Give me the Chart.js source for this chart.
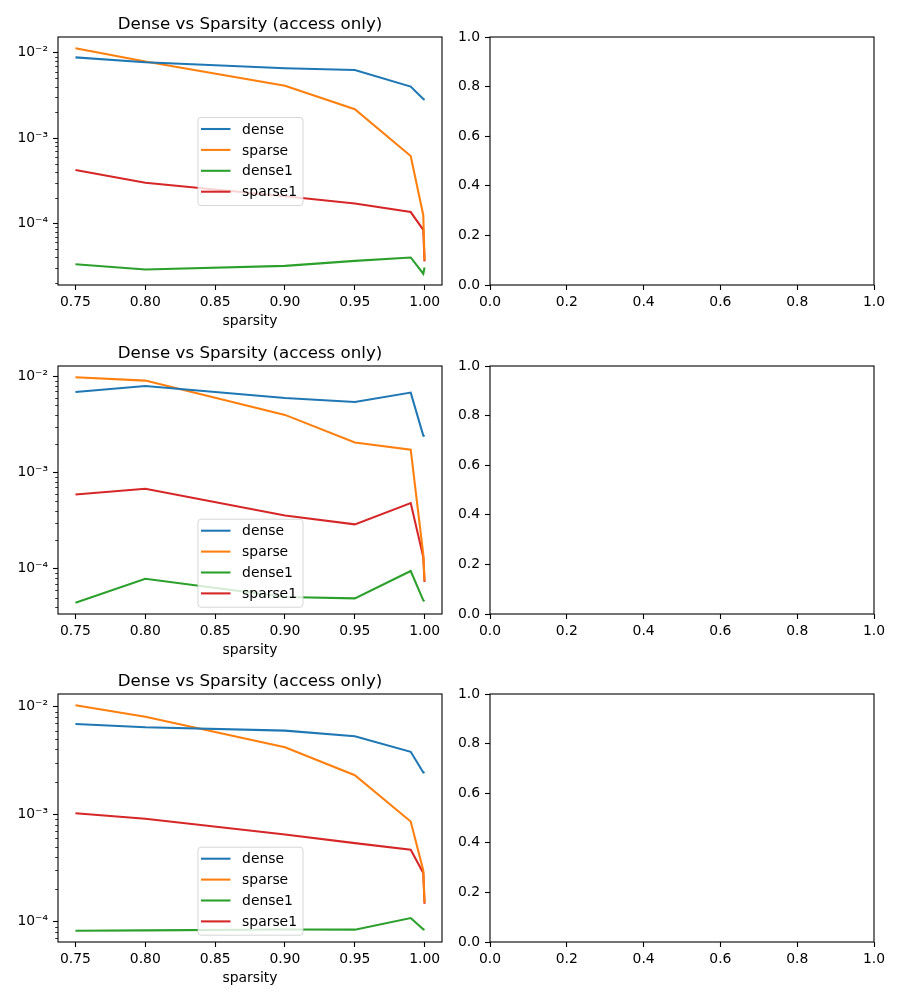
<!DOCTYPE html>
<html>
<head>
<meta charset="utf-8">
<script src="https://cdn.jsdelivr.net/npm/chart.js@4.4.0/dist/chart.umd.min.js"></script>
<style>
  body { margin: 0; background: #fff; }
  #fig { position: relative; width: 900px; height: 1000px; }
  canvas { position: absolute; }
</style>
</head>
<body>
<div id="fig"></div>
<script>
// x values shared by every left-hand plot
const sparsity = [0.75, 0.8, 0.9, 0.95, 0.99, 0.999, 0.9999];
const seriesNames = ['dense', 'sparse', 'dense1', 'sparse1'];
const seriesColors = ['#1f77b4', '#ff7f0e', '#2ca02c', '#d62728'];

// Row 1
const dense_1   = [0.0088, 0.0077, 0.00655, 0.00626, 0.0040, 0.00287, 0.0028];
const sparse_1  = [0.01124, 0.00785, 0.0041, 0.00217, 0.000615, 0.000125, 0.000037];
const dense1_1  = [3.33e-5, 2.89e-5, 3.19e-5, 3.65e-5, 4.0e-5, 2.58e-5, 3.05e-5];
const sparse1_1 = [4.22e-4, 3.0e-4, 2.08e-4, 1.71e-4, 1.36e-4, 8.4e-5, 3.6e-5];

// Row 2
const dense_2   = [0.00687, 0.00794, 0.00596, 0.00541, 0.00677, 0.00242, 0.00238];
const sparse_2  = [0.00977, 0.00902, 0.00397, 0.00205, 0.00173, 0.00014, 0.000075];
const dense1_2  = [4.43e-5, 7.87e-5, 5.08e-5, 4.92e-5, 9.46e-5, 4.69e-5, 4.6e-5];
const sparse1_2 = [5.91e-4, 6.77e-4, 3.58e-4, 2.89e-4, 4.81e-4, 1.32e-4, 7.3e-5];

// Row 3
const dense_3   = [0.0069, 0.00643, 0.00598, 0.0053, 0.0038, 0.00244, 0.00247];
const sparse_3  = [0.0103, 0.00807, 0.00419, 0.0023, 0.000855, 0.0003, 0.00015];
const dense1_3  = [8.24e-5, 8.3e-5, 8.45e-5, 8.43e-5, 1.08e-4, 8.5e-5, 8.4e-5];
const sparse1_3 = [1.02e-3, 9.05e-4, 6.48e-4, 5.38e-4, 4.67e-4, 2.83e-4, 1.47e-4];

// Tick labels
const xTicks = [0.75, 0.80, 0.85, 0.90, 0.95, 1.00];
const yTicks = [1e-4, 1e-3, 1e-2];
const unitTicks = [0, 0.2, 0.4, 0.6, 0.8, 1.0];

const plotTitle = 'Dense vs Sparsity (access only)';
const xLabel = 'sparsity';

const rows = [
    { series: [dense_1, sparse_1, dense1_1, sparse1_1], legendLoc: 'center' },
    { series: [dense_2, sparse_2, dense1_2, sparse1_2], legendLoc: 'lower center' },
    { series: [dense_3, sparse_3, dense1_3, sparse1_3], legendLoc: 'lower center' }
];
const rowTops = [0, 329, 657];

const FS = 13.9;   // 10pt at 100 dpi
Chart.defaults.font.family = '"DejaVu Sans", sans-serif';
Chart.defaults.font.size = FS;
Chart.defaults.color = '#000';

// Superscript exponent labels: 10⁻²
const SUP = { '-': '\u207B', '0': '\u2070', '1': '\u00B9', '2': '\u00B2', '3': '\u00B3',
              '4': '\u2074', '5': '\u2075', '6': '\u2076', '7': '\u2077', '8': '\u2078', '9': '\u2079' };
function powLabel(v) {
    const e = String(Math.round(Math.log10(v)));
    return '10' + e.split('').map(c => SUP[c]).join('');
}

// matplotlib-like frame, minor log ticks, title and legend
const mplPlugin = {
    id: 'mpl',
    afterDraw(chart, args, opts) {
        const ctx = chart.ctx;
        const a = chart.chartArea;
        ctx.save();

        // minor ticks on log axis
        if (opts.minorTicks) {
            const ys = chart.scales.y;
            ctx.strokeStyle = '#000';
            ctx.lineWidth = 0.8;
            const d0 = Math.floor(Math.log10(ys.min));
            const d1 = Math.ceil(Math.log10(ys.max));
            for (let d = d0; d <= d1; d++) {
                for (let k = 2; k <= 9; k++) {
                    const v = k * Math.pow(10, d);
                    if (v < ys.min || v > ys.max) continue;
                    const py = Math.round(ys.getPixelForValue(v)) + 0.5;
                    ctx.beginPath();
                    ctx.moveTo(a.left - 2.8, py);
                    ctx.lineTo(a.left, py);
                    ctx.stroke();
                }
            }
        }

        // legend
        if (opts.legendLoc) {
            const sets = chart.data.datasets;
            ctx.font = FS + 'px "DejaVu Sans"';
            const textW = Math.max(...sets.map(d => ctx.measureText(d.label).width));
            const w = 3.5 + 29.5 + 11.6 + textW + 5.5;
            const h = 88;
            const x = (a.left + a.right) / 2 - w / 2;
            const y = opts.legendLoc === 'center'
                ? (a.top + a.bottom) / 2 - h / 2
                : a.bottom - 7.3 - h;
            ctx.beginPath();
            ctx.roundRect(x + 0.5, y + 0.5, w, h, 3);
            ctx.fillStyle = 'rgba(255,255,255,0.8)';
            ctx.fill();
            ctx.strokeStyle = 'rgba(204,204,204,0.8)';
            ctx.lineWidth = 1;
            ctx.stroke();
            ctx.textBaseline = 'middle';
            ctx.textAlign = 'left';
            sets.forEach((d, i) => {
                const cy = y + 12 + i * 20.9;
                ctx.strokeStyle = d.borderColor;
                ctx.lineWidth = 2.08;
                ctx.beginPath();
                ctx.moveTo(x + 3.5, cy);
                ctx.lineTo(x + 33, cy);
                ctx.stroke();
                ctx.fillStyle = '#000';
                ctx.fillText(d.label, x + 44.6, cy + 1);
            });
        }

        // frame
        ctx.strokeStyle = '#000';
        ctx.lineWidth = 1.1;
        ctx.strokeRect(a.left, a.top, a.right - a.left, a.bottom - a.top);

        // title
        if (opts.title) {
            ctx.fillStyle = '#000';
            ctx.font = '16.67px "DejaVu Sans"';
            ctx.textAlign = 'center';
            ctx.textBaseline = 'alphabetic';
            ctx.fillText(opts.title, (a.left + a.right) / 2, a.top - 8);
        }
        ctx.restore();
    }
};

function addCanvas(left, top, w, h) {
    const c = document.createElement('canvas');
    c.width = w;
    c.height = h;
    c.style.left = left + 'px';
    c.style.top = top + 'px';
    document.getElementById('fig').appendChild(c);
    return c.getContext('2d');
}

const tickGrid = { display: true, drawOnChartArea: false, drawTicks: true,
                   tickLength: 5, tickWidth: 1.1, tickColor: '#000' };

function makeLogChart(row, top) {
    const ctx = addCanvas(0, top, 450, 330);
    const all = row.series.flat();
    const lo = Math.log10(Math.min(...all));
    const hi = Math.log10(Math.max(...all));
    const padY = (hi - lo) * 0.05;
    const padX = (sparsity[sparsity.length - 1] - sparsity[0]) * 0.05;

    new Chart(ctx, {
        type: 'line',
        data: {
            datasets: row.series.map((vals, i) => ({
                label: seriesNames[i],
                data: sparsity.map((x, j) => ({ x: x, y: vals[j] })),
                borderColor: seriesColors[i],
                backgroundColor: seriesColors[i],
                borderWidth: 2.08,
                pointRadius: 0,
                tension: 0,
                fill: false
            }))
        },
        options: {
            responsive: false,
            animation: false,
            devicePixelRatio: 1,
            layout: { autoPadding: false, padding: { left: 0, right: 8, top: 37, bottom: 0 } },
            plugins: {
                legend: { display: false },
                tooltip: { enabled: false },
                mpl: { title: plotTitle, legendLoc: row.legendLoc, minorTicks: true }
            },
            scales: {
                x: {
                    type: 'linear',
                    min: sparsity[0] - padX,
                    max: sparsity[sparsity.length - 1] + padX,
                    afterBuildTicks: s => { s.ticks = xTicks.map(v => ({ value: v })); },
                    afterFit: s => { s.height = 45; },
                    ticks: { padding: 4, maxRotation: 0, callback: v => v.toFixed(2) },
                    grid: tickGrid,
                    border: { display: false },
                    title: { display: true, text: xLabel, padding: { top: 0, bottom: 0 } }
                },
                y: {
                    type: 'logarithmic',
                    min: Math.pow(10, lo - padY),
                    max: Math.pow(10, hi + padY),
                    afterBuildTicks: s => { s.ticks = yTicks.filter(v => v >= s.min && v <= s.max).map(v => ({ value: v })); },
                    afterFit: s => { s.width = 58; },
                    ticks: { padding: 5, callback: v => powLabel(v) },
                    grid: tickGrid,
                    border: { display: false }
                }
            }
        },
        plugins: [mplPlugin]
    });
}

function makeEmptyChart(top) {
    const ctx = addCanvas(450, top, 450, 330);
    new Chart(ctx, {
        type: 'line',
        data: { datasets: [] },
        options: {
            responsive: false,
            animation: false,
            devicePixelRatio: 1,
            layout: { autoPadding: false, padding: { left: 0, right: 26, top: 37, bottom: 0 } },
            plugins: { legend: { display: false }, tooltip: { enabled: false }, mpl: {} },
            scales: {
                x: {
                    type: 'linear', min: 0, max: 1,
                    afterBuildTicks: s => { s.ticks = unitTicks.map(v => ({ value: v })); },
                    afterFit: s => { s.height = 45; },
                    ticks: { padding: 4, maxRotation: 0, callback: v => v.toFixed(1) },
                    grid: tickGrid,
                    border: { display: false }
                },
                y: {
                    type: 'linear', min: 0, max: 1,
                    afterBuildTicks: s => { s.ticks = unitTicks.map(v => ({ value: v })); },
                    afterFit: s => { s.width = 40; },
                    ticks: { padding: 5, callback: v => v.toFixed(1) },
                    grid: tickGrid,
                    border: { display: false }
                }
            }
        },
        plugins: [mplPlugin]
    });
}

rows.forEach((row, i) => {
    makeLogChart(row, rowTops[i]);
    makeEmptyChart(rowTops[i]);
});
</script>
</body>
</html>
